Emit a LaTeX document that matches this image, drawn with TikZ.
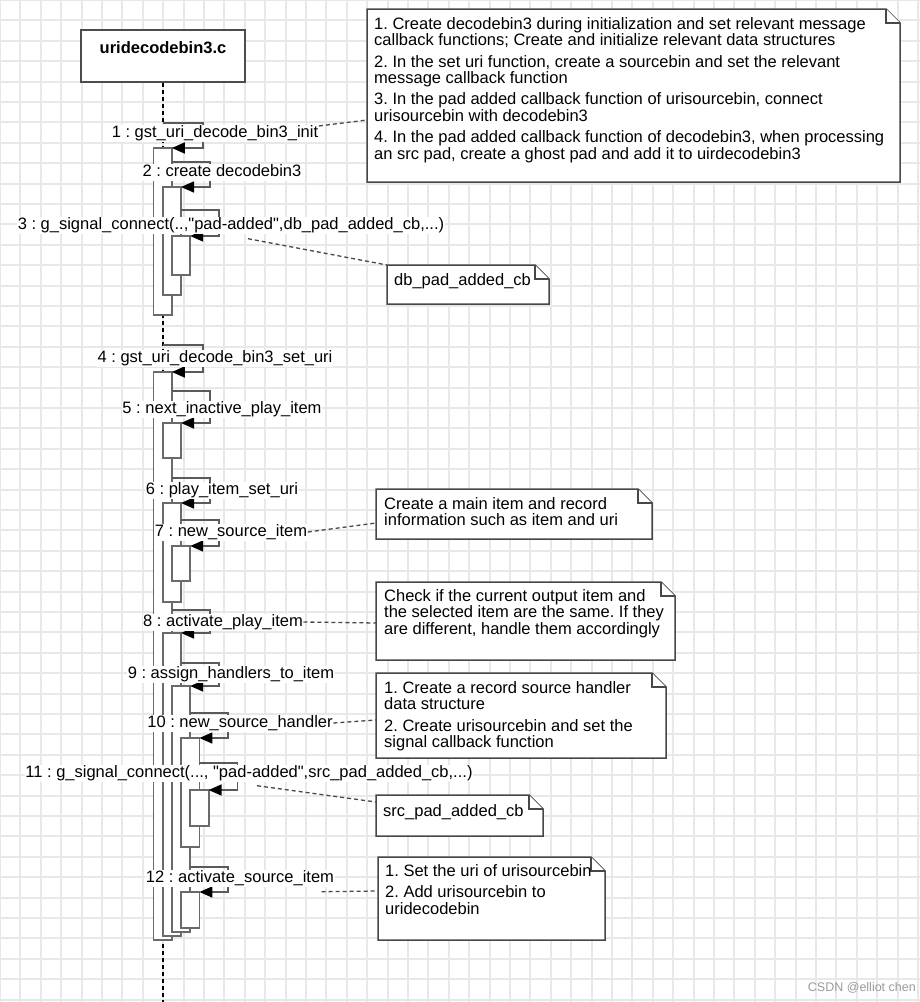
\documentclass[tikz,border=0pt]{standalone}
\usepackage{fontspec}
\setmainfont{Liberation Sans}
\usetikzlibrary{arrows.meta,calc}
\frenchspacing
\definecolor{gridc}{HTML}{E8E8E8}
\definecolor{linec}{HTML}{5A5A5A}
\definecolor{boxc}{HTML}{6A6A6A}
\definecolor{notec}{HTML}{474747}
\definecolor{wmc}{HTML}{9A9A9A}
\newcommand{\qd}{\textquotedbl}
\newcommand{\actv}[4]{\node[act, minimum height={(#4-#3)*1pt}] (#1) at ({153.5+9.2*#2},#3) {};}
\newcommand{\selfmsg}[3]{\draw[msg] (#1.east |- 0,#2) -- ++(38,0) |- (#3.north east);}
\newcommand{\notebox}[5]{%
  \node[notebg, minimum width={(#4-#2)*1pt}, minimum height={(#5-#3)*1pt}] (#1) at (#2,#3) {};
  \filldraw[notebd] (#1.north west) -- ([xshift=-14pt]#1.north east) -- ([yshift=-14pt]#1.north east) -- (#1.south east) -- (#1.south west) -- cycle;
  \draw[notebd] ([xshift=-14pt]#1.north east) -- ([xshift=-14pt,yshift=-14pt]#1.north east) -- ([yshift=-14pt]#1.north east);
}
\begin{document}
\begin{tikzpicture}[x=1pt,y=-1pt,
  gridline/.style={draw=gridc, line width=2pt},
  life/.style={draw=black, line width=1.5pt, dash pattern=on 4pt off 3pt},
  act/.style={draw=boxc, line width=1.8pt, fill=white, minimum width=18.3pt, inner sep=0pt, outer sep=0pt, anchor=north west},
  msg/.style={draw=linec, line width=1.6pt, -{Triangle[length=13pt,width=11pt,fill=black,color=black]}},
  lbl/.style={fill=white, inner sep=0.5pt, text height=12pt, text depth=4pt, font=\fontsize{16.5}{17}\selectfont},
  notebg/.style={draw=none, fill=none, inner sep=0pt, outer sep=0pt, anchor=north west},
  notebd/.style={draw=notec, fill=white, line width=1.5pt, line join=miter},
  ntext/.style={anchor=north west, inner sep=0pt, align=left, font=\fontsize{16.5}{16.7}\selectfont},
  link/.style={draw=notec, line width=1.3pt, dash pattern=on 4pt off 3pt},
  hdr/.style={draw=black!70, line width=2.5pt, fill=white, minimum width=164pt, minimum height=52pt, inner sep=0pt, text height=12pt, text depth=18pt, font=\fontsize{16.5}{17}\selectfont\bfseries}
]
\useasboundingbox (0,0) rectangle (920,1002);
\fill[white] (0,0) rectangle (920,1002);
% grid
\foreach \i in {0,...,45} { \draw[gridline] (\i*20.4,0) -- (\i*20.4,1002); }
\foreach \j in {0,...,49} { \draw[gridline] (0,\j*20.4) -- (920,\j*20.4); }

% header and lifeline
\node[hdr] (H) at (163,56) {uridecodebin3.c};
\coordinate (lifeEnd) at (163,1002);
\draw[life] (H.south) -- (lifeEnd);

% activations
\actv{A1}{0}{148}{315}
\actv{A2}{1}{187}{295}
\actv{A3}{2}{236}{275}
\actv{B1}{0}{372}{940}
\actv{B2}{1}{423}{458}
\actv{B3}{1}{503}{602}
\actv{B4}{2}{546}{581}
\actv{B5}{1}{633}{936}
\actv{B6}{2}{686}{932}
\actv{B7}{3}{738}{847}
\actv{B8}{4}{790}{826}
\actv{B9}{3}{892}{928}

% messages
\coordinate (f1) at (163,123);
\coordinate (f4) at (163,345);
\draw[msg] (f1) -- ++(40,0) |- (A1.north east);
\selfmsg{A1}{162}{A2}
\selfmsg{A2}{210}{A3}
\draw[msg] (f4) -- ++(40,0) |- (B1.north east);
\selfmsg{B1}{391}{B2}
\selfmsg{B1}{478}{B3}
\selfmsg{B3}{520}{B4}
\selfmsg{B1}{610}{B5}
\selfmsg{B5}{663}{B6}
\selfmsg{B6}{713}{B7}
\selfmsg{B7}{763}{B8}
\selfmsg{B6}{867}{B9}

% labels
\node[lbl] (L1) at (215,133) {1 : gst\_uri\_decode\_bin3\_init};
\node[lbl] (L2) at (222,172) {2 : create decodebin3};
\node[lbl] (L3) at (231,225) {3 : g\_signal\_connect(..,\qd pad-added\qd,db\_pad\_added\_cb,...)};
\node[lbl] (L4) at (215,358) {4 : gst\_uri\_decode\_bin3\_set\_uri};
\node[lbl] (L5) at (222,409) {5 : next\_inactive\_play\_item};
\node[lbl] (L6) at (222,490) {6 : play\_item\_set\_uri};
\node[lbl] (L7) at (231,532) {7 : new\_source\_item};
\node[lbl] (L8) at (223,622) {8 : activate\_play\_item};
\node[lbl] (L9) at (231,674) {9 : assign\_handlers\_to\_item};
\node[lbl] (L10) at (240,723) {10 : new\_source\_handler};
\node[lbl] (L11) at (249,773) {11 : g\_signal\_connect(..., \qd pad-added\qd,src\_pad\_added\_cb,...)};
\node[lbl] (L12) at (240,878) {12 : activate\_source\_item};

% notes
\notebox{N1}{367}{9}{900}{182}
\node[ntext] (T1) at ($(N1.north west)+(7,8)$) {1. Create decodebin3 during initialization and set relevant message\\callback functions; Create and initialize relevant data structures\\[4.5pt]2. In the set uri function, create a sourcebin and set the relevant\\message callback function\\[4.5pt]3. In the pad added callback function of urisourcebin, connect\\urisourcebin with decodebin3\\[4.5pt]4. In the pad added callback function of decodebin3, when processing\\an src pad, create a ghost pad and add it to uirdecodebin3};

\notebox{N2}{387}{265}{549}{304}
\node[ntext] (T2) at ($(N2.north west)+(7,8)$) {db\_pad\_added\_cb};

\notebox{N3}{376}{489}{652}{539}
\node[ntext] (T3) at ($(N3.north west)+(8,8)$) {Create a main item and record\\information such as item and uri};

\notebox{N4}{376}{582}{675}{660}
\node[ntext] (T4) at ($(N4.north west)+(8,7)$) {Check if the current output item and\\the selected item are the same. If they\\are different, handle them accordingly};

\notebox{N5}{376}{673}{666}{758}
\node[ntext] (T5) at ($(N5.north west)+(8,8)$) {1. Create a record source handler\\data structure\\[4.5pt]2. Create urisourcebin and set the\\signal callback function};

\notebox{N6}{376}{795}{543}{836}
\node[ntext] (T6) at ($(N6.north west)+(7,9)$) {src\_pad\_added\_cb};

\notebox{N7}{378}{857}{605}{940}
\node[ntext] (T7) at ($(N7.north west)+(7,7)$) {1. Set the uri of urisourcebin\\[4.5pt]2. Add urisourcebin to\\uridecodebin};

% note connectors
\draw[link] ($(L1.east)+(0,-7)$) -- ($(N1.north west)+(0,111)$);
\draw[link] ($(L3.south)+(17,5)$) -- (N2.north west);
\draw[link] (L7.east) -- ($(N3.north west)+(0,34)$);
\draw[link] (L8.east) -- ($(N4.north west)+(0,41)$);
\draw[link] (L10.east) -- ($(N5.north west)+(0,47)$);
\draw[link] ($(L11.south)+(8,4)$) -- ($(N6.north west)+(0,7)$);
\draw[link] ($(L12.south east)+(-13,5)$) -- ($(N7.north west)+(0,34)$);

% watermark
\node[font=\fontsize{12.5}{13}\selectfont, text=wmc, inner sep=0pt, anchor=east] (wm) at (916,988) {CSDN @elliot chen};
\end{tikzpicture}
\end{document}
